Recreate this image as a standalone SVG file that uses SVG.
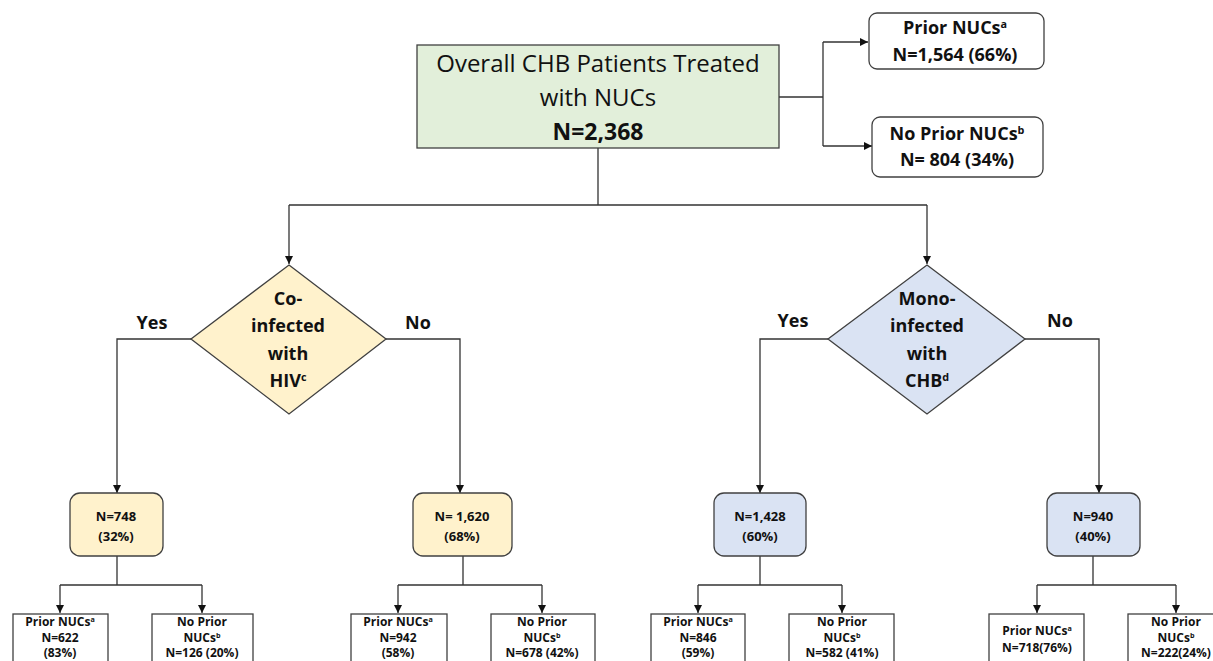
<svg xmlns="http://www.w3.org/2000/svg" width="1213" height="661" viewBox="0 0 1213 661">
<style>
text{font-family:"Open Sans","Liberation Sans",sans-serif;fill:#111;text-anchor:middle}
.b{font-weight:bold}
.box{stroke:#404040;stroke-width:1.3}
.ln{fill:none;stroke:#333;stroke-width:1.3}
.sup{font-size:60%}
.t19{font-size:18px;font-weight:bold}
.t14{font-size:13px;font-weight:bold}
.t12{font-size:12px;font-weight:bold}
</style>
<defs>
<marker id="ar" viewBox="0 0 10 10" refX="10" refY="5" markerWidth="8" markerHeight="8" markerUnits="userSpaceOnUse" orient="auto">
<path d="M0,0 L10,5 L0,10 z" fill="#111"/>
</marker>
</defs>
<rect width="1213" height="661" fill="#fff"/>

<g id="connectors">
<path class="ln" d="M779,97 H823 M823,42 V146"/>
<path class="ln" d="M823,42 H868" marker-end="url(#ar)"/>
<path class="ln" d="M823,146 H872" marker-end="url(#ar)"/>
<path class="ln" d="M598,148 V205 M289,205 H927"/>
<path class="ln" d="M289,205 V264" marker-end="url(#ar)"/>
<path class="ln" d="M927,205 V264" marker-end="url(#ar)"/>
<path class="ln" d="M191,339 H117 V493" marker-end="url(#ar)"/>
<path class="ln" d="M386,339 H460 V493" marker-end="url(#ar)"/>
<path class="ln" d="M828,339 H760 V493" marker-end="url(#ar)"/>
<path class="ln" d="M1025,339 H1099 V493" marker-end="url(#ar)"/>
<path class="ln" d="M117,556 V585 M60,585 H202"/>
<path class="ln" d="M60,585 V613" marker-end="url(#ar)"/>
<path class="ln" d="M202,585 V613" marker-end="url(#ar)"/>
<path class="ln" d="M463,556 V585 M398,585 H542"/>
<path class="ln" d="M398,585 V613" marker-end="url(#ar)"/>
<path class="ln" d="M542,585 V613" marker-end="url(#ar)"/>
<path class="ln" d="M760,556 V585 M698,585 H842"/>
<path class="ln" d="M698,585 V613" marker-end="url(#ar)"/>
<path class="ln" d="M842,585 V613" marker-end="url(#ar)"/>
<path class="ln" d="M1093,556 V585 M1037,585 H1176"/>
<path class="ln" d="M1037,585 V613" marker-end="url(#ar)"/>
<path class="ln" d="M1176,585 V613" marker-end="url(#ar)"/>
</g>

<g id="labels">
<text class="t19" x="152" y="329">Yes</text>
<text class="t19" x="418" y="329">No</text>
<text class="t19" x="793" y="327">Yes</text>
<text class="t19" x="1060" y="327">No</text>
</g>

<g id="root">
<rect class="box" x="417" y="45" width="362" height="103" fill="#e2efda"/>
<text x="598" y="72" style="font-size:24px">Overall CHB Patients Treated</text>
<text x="598" y="106" style="font-size:24px">with NUCs</text>
<text x="598" y="140" class="b" style="font-size:23px">N=2,368</text>
</g>

<g id="prior-top">
<rect class="box" x="869" y="13" width="175" height="56" rx="8" fill="#fff"/>
<text class="t19" x="955" y="34">Prior NUCs<tspan class="sup" dy="-6">a</tspan></text>
<text class="t19" x="955" y="61">N=1,564 (66%)</text>
</g>

<g id="noprior-top">
<rect class="box" x="872" y="117" width="171" height="60" rx="8" fill="#fff"/>
<text class="t19" x="957" y="140">No Prior NUCs<tspan class="sup" dy="-6">b</tspan></text>
<text class="t19" x="957" y="166">N= 804 (34%)</text>
</g>

<g id="hiv-diamond">
<polygon class="box" points="289,265 386,339 289,414 191,339" fill="#fff2cc"/>
<text class="t19" x="288" y="305">Co-</text>
<text class="t19" x="288" y="332">infected</text>
<text class="t19" x="288" y="360">with</text>
<text class="t19" x="288" y="387">HIV<tspan class="sup" dy="-6">c</tspan></text>
</g>

<g id="chb-diamond">
<polygon class="box" points="927,265 1025,339 927,414 828,339" fill="#dae3f3"/>
<text class="t19" x="927" y="305">Mono-</text>
<text class="t19" x="927" y="332">infected</text>
<text class="t19" x="927" y="360">with</text>
<text class="t19" x="927" y="387">CHB<tspan class="sup" dy="-6">d</tspan></text>
</g>

<g id="n748">
<rect class="box" x="70" y="493" width="93" height="63" rx="10" fill="#fff2cc"/>
<text class="t14" x="116" y="521">N=748</text>
<text class="t14" x="116" y="541">(32%)</text>
</g>
<g id="n1620">
<rect class="box" x="413" y="493" width="99" height="63" rx="10" fill="#fff2cc"/>
<text class="t14" x="462" y="521">N= 1,620</text>
<text class="t14" x="462" y="541">(68%)</text>
</g>
<g id="n1428">
<rect class="box" x="714" y="493" width="92" height="63" rx="10" fill="#dae3f3"/>
<text class="t14" x="760" y="521">N=1,428</text>
<text class="t14" x="760" y="541">(60%)</text>
</g>
<g id="n940">
<rect class="box" x="1047" y="493" width="93" height="63" rx="10" fill="#dae3f3"/>
<text class="t14" x="1093" y="521">N=940</text>
<text class="t14" x="1093" y="541">(40%)</text>
</g>

<g id="b1">
<rect class="box" x="13" y="614" width="95" height="60" fill="#fff"/>
<text class="t12" x="60" y="626">Prior NUCs<tspan class="sup" dy="-4">a</tspan></text>
<text class="t12" x="60" y="642">N=622</text>
<text class="t12" x="60" y="657">(83%)</text>
</g>
<g id="b2">
<rect class="box" x="152" y="614" width="101" height="60" fill="#fff"/>
<text class="t12" x="202" y="626">No Prior</text>
<text class="t12" x="202" y="642">NUCs<tspan class="sup" dy="-4">b</tspan></text>
<text class="t12" x="202" y="657">N=126 (20%)</text>
</g>
<g id="b3">
<rect class="box" x="351" y="614" width="96" height="60" fill="#fff"/>
<text class="t12" x="398" y="626">Prior NUCs<tspan class="sup" dy="-4">a</tspan></text>
<text class="t12" x="398" y="642">N=942</text>
<text class="t12" x="398" y="657">(58%)</text>
</g>
<g id="b4">
<rect class="box" x="491" y="614" width="104" height="60" fill="#fff"/>
<text class="t12" x="542" y="626">No Prior</text>
<text class="t12" x="542" y="642">NUCs<tspan class="sup" dy="-4">b</tspan></text>
<text class="t12" x="542" y="657">N=678 (42%)</text>
</g>
<g id="b5">
<rect class="box" x="651" y="614" width="94" height="60" fill="#fff"/>
<text class="t12" x="698" y="626">Prior NUCs<tspan class="sup" dy="-4">a</tspan></text>
<text class="t12" x="698" y="642">N=846</text>
<text class="t12" x="698" y="657">(59%)</text>
</g>
<g id="b6">
<rect class="box" x="789" y="614" width="105" height="60" fill="#fff"/>
<text class="t12" x="842" y="626">No Prior</text>
<text class="t12" x="842" y="642">NUCs<tspan class="sup" dy="-4">b</tspan></text>
<text class="t12" x="842" y="657">N=582 (41%)</text>
</g>
<g id="b7">
<rect class="box" x="989" y="614" width="95" height="60" fill="#fff"/>
<text class="t12" x="1037" y="635">Prior NUCs<tspan class="sup" dy="-4">a</tspan></text>
<text class="t12" x="1037" y="652">N=718(76%)</text>
</g>
<g id="b8">
<rect class="box" x="1128" y="614" width="100" height="60" fill="#fff"/>
<text class="t12" x="1176" y="626">No Prior</text>
<text class="t12" x="1176" y="642">NUCs<tspan class="sup" dy="-4">b</tspan></text>
<text class="t12" x="1176" y="657">N=222(24%)</text>
</g>
</svg>
